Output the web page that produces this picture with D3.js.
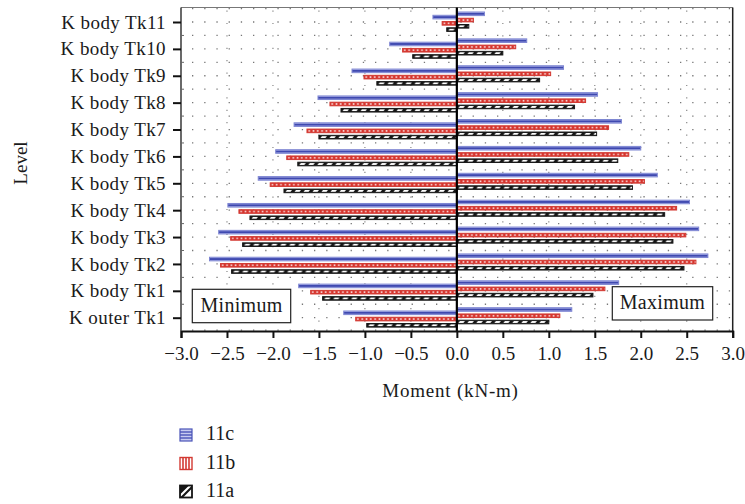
<!DOCTYPE html>
<html>
<head>
<meta charset="utf-8">
<script src="https://cdn.jsdelivr.net/npm/d3@7"></script>
<style>
  html, body { margin: 0; padding: 0; background: #fff; }
  svg text { font-family: "Liberation Serif", "Times New Roman", serif; fill: #1a1a1a; }
</style>
</head>
<body>
<svg id="chart" width="745" height="504"></svg>
<script>
// Levels, bottom to top
const levels = ["K outer Tk1", "K body Tk1", "K body Tk2", "K body Tk3", "K body Tk4", "K body Tk5",
                "K body Tk6", "K body Tk7", "K body Tk8", "K body Tk9", "K body Tk10", "K body Tk11"];
const seriesNames = ["11c", "11b", "11a"];

// Minimum moments (kN-m)
const min11c = [-1.23, -1.72, -2.69, -2.59, -2.49, -2.16, -1.97, -1.77, -1.51, -1.14, -0.73, -0.26];
const min11b = [-1.10, -1.59, -2.57, -2.46, -2.37, -2.03, -1.85, -1.63, -1.38, -1.01, -0.59, -0.16];
const min11a = [-0.98, -1.46, -2.45, -2.33, -2.25, -1.88, -1.73, -1.50, -1.26, -0.87, -0.48, -0.11];
// Maximum moments (kN-m)
const max11c = [1.25, 1.76, 2.73, 2.63, 2.53, 2.18, 2.00, 1.79, 1.53, 1.16, 0.76, 0.30];
const max11b = [1.12, 1.61, 2.60, 2.49, 2.39, 2.04, 1.87, 1.65, 1.40, 1.02, 0.64, 0.18];
const max11a = [1.00, 1.48, 2.47, 2.35, 2.26, 1.91, 1.75, 1.52, 1.28, 0.90, 0.50, 0.13];

const xTicks = [-3.0, -2.5, -2.0, -1.5, -1.0, -0.5, 0.0, 0.5, 1.0, 1.5, 2.0, 2.5, 3.0];

const svg = d3.select("#chart");
const plotL = 181, plotR = 732.7, plotT = 7.5, plotB = 331;

const x = d3.scaleLinear().domain([-3, 3]).range([plotL, plotR]);
const y = d3.scalePoint().domain(levels).range([317.7, 22]);
// offset of each series bar inside a level (max bars sit slightly higher than min bars)
const sub = d3.scaleBand().domain(seriesNames).range([-10, 7.5]).paddingInner(0.2);
const minShift = 3.3;
const barH = 3.6;

// ---- patterns ----
const defs = svg.append("defs");
const pRed = defs.append("pattern").attr("id", "pat11b").attr("patternUnits", "userSpaceOnUse")
  .attr("width", 4.3).attr("height", barH);
pRed.append("rect").attr("width", 4.3).attr("height", barH).attr("fill", "#d6342d");
pRed.append("rect").attr("x", 1.4).attr("y", 1.1).attr("width", 1.6).attr("height", 1.4).attr("fill", "#fff");

const pBlack = defs.append("pattern").attr("id", "pat11a").attr("patternUnits", "userSpaceOnUse")
  .attr("width", 9).attr("height", barH);
pBlack.append("rect").attr("width", 9).attr("height", barH).attr("fill", "#151515");
pBlack.append("path").attr("d", "M1.5,2.7 L3,1 L8,1 L6.5,2.7 Z").attr("fill", "#fff");

const pBlue = defs.append("pattern").attr("id", "pat11c").attr("patternUnits", "userSpaceOnUse")
  .attr("width", 10).attr("height", barH);
pBlue.append("rect").attr("width", 10).attr("height", barH).attr("fill", "#aab0e6");
pBlue.append("rect").attr("y", 0.9).attr("width", 10).attr("height", 1.9).attr("fill", "#3f49b0");

const fills = { "11c": "url(#pat11c)", "11b": "url(#pat11b)", "11a": "url(#pat11a)" };
const strokes = { "11c": "#7d85d2", "11b": "#d33a33", "11a": "#1a1a1a" };

// ---- dotted background grid ----
const grid = svg.append("g");
const rows = [];
levels.forEach((l, i) => {
  rows.push(y(l));
  if (i < levels.length - 1) rows.push((y(l) + y(levels[i + 1])) / 2);
});
const midRows = rows.filter((r, i) => i % 2 === 1);
rows.push(y(levels[levels.length - 1]) - 13.4);
rows.push(y(levels[0]) + 13.4 - 1);
grid.selectAll("line.row").data(rows).join("line")
  .attr("x1", plotL + 11).attr("x2", plotR - 2)
  .attr("y1", d => d).attr("y2", d => d)
  .attr("stroke", "#777").attr("stroke-width", 1.3)
  .attr("stroke-dasharray", "1.3,10.9");
grid.selectAll("line.col").data(xTicks.filter(t => t > -3 && t < 3 && t !== 0)).join("line")
  .attr("x1", d => x(d)).attr("x2", d => x(d))
  .attr("y1", plotT + 3).attr("y2", plotB - 2)
  .attr("stroke", "#888").attr("stroke-width", 1.2)
  .attr("stroke-dasharray", "1.2,11.2");

// ---- frame ----
svg.append("line").attr("x1", plotL).attr("x2", plotR).attr("y1", plotT).attr("y2", plotT)
  .attr("stroke", "#777").attr("stroke-width", 1.2);
svg.append("line").attr("x1", plotR).attr("x2", plotR).attr("y1", plotT).attr("y2", plotB)
  .attr("stroke", "#222").attr("stroke-width", 1.5);

// ---- bars ----
const minData = { "11c": min11c, "11b": min11b, "11a": min11a };
const maxData = { "11c": max11c, "11b": max11b, "11a": max11a };
const bars = [];
seriesNames.forEach(s => {
  levels.forEach((l, i) => {
    bars.push({ s, l, v: minData[s][i], shift: minShift });
    bars.push({ s, l, v: maxData[s][i], shift: 0 });
  });
});
const barG = svg.append("g");
const bg = barG.selectAll("g.bar").data(bars).join("g")
  .attr("transform", d => `translate(${x(Math.min(0, d.v))},${y(d.l) + sub(d.s) + d.shift})`);
bg.append("rect")
  .attr("width", d => Math.abs(x(d.v) - x(0)))
  .attr("height", barH)
  .attr("fill", d => fills[d.s])
  .attr("stroke", d => strokes[d.s])
  .attr("stroke-width", 1);

// zero line
svg.append("line").attr("x1", x(0)).attr("x2", x(0)).attr("y1", plotT).attr("y2", plotB)
  .attr("stroke", "#000").attr("stroke-width", 2.2);

// ---- axes ----
const xAxis = d3.axisBottom(x).tickValues(xTicks).tickSize(7).tickPadding(9)
  .tickFormat(d => d3.format(".1f")(d).replace("-", "\u2212"));
const xg = svg.append("g").attr("transform", `translate(0,${plotB})`).call(xAxis)
  .attr("font-family", null);
xg.select(".domain").attr("stroke", "#111").attr("stroke-width", 2);
xg.selectAll(".tick line").attr("stroke", "#111").attr("stroke-width", 2);
xg.selectAll(".tick text").attr("font-size", 19).attr("fill", "#1a1a1a");

const yAxis = d3.axisLeft(y).tickSize(8).tickPadding(7);
const yg = svg.append("g").attr("transform", `translate(${plotL},0)`).call(yAxis)
  .attr("font-family", null);
yg.select(".domain").attr("d", `M0,${plotT}V${plotB}`).attr("stroke", "#444").attr("stroke-width", 1.6);
yg.selectAll(".tick line").attr("stroke", "#111").attr("stroke-width", 2);
yg.selectAll(".tick text").attr("font-size", 19).attr("letter-spacing", 0.4).attr("fill", "#1a1a1a");
// minor ticks between levels
yg.selectAll("line.minor").data(midRows).join("line")
  .attr("x1", 0).attr("x2", 3).attr("y1", d => d).attr("y2", d => d)
  .attr("stroke", "#666").attr("stroke-width", 1);

// axis titles
svg.append("text").attr("x", 450.5).attr("y", 396.5).attr("text-anchor", "middle")
  .attr("font-size", 19).attr("letter-spacing", 0.8).text("Moment (kN-m)");
svg.append("text").attr("transform", "translate(27,163) rotate(-90)").attr("text-anchor", "middle")
  .attr("font-size", 19).text("Level");

// ---- Minimum / Maximum boxes ----
function noteBox(x0, y0, w, h, label, by) {
  svg.append("rect").attr("x", x0).attr("y", y0).attr("width", w).attr("height", h)
    .attr("fill", "#fff").attr("stroke", "#222").attr("stroke-width", 1.2);
  svg.append("text").attr("x", x0 + w / 2).attr("y", by).attr("text-anchor", "middle")
    .attr("font-size", 20).attr("letter-spacing", 0.3).text(label);
}
noteBox(192.3, 289.3, 98.4, 33.4, "Minimum", 311.5);
noteBox(612.3, 286.7, 100.4, 33.3, "Maximum", 309);

// ---- legend ----
const lg = svg.append("g");
const legendY = { "11c": 429, "11b": 457.5, "11a": 485.5 };
const lx = 180, ls = 12;
// 11c: horizontal lines
{
  const g = lg.append("g").attr("transform", `translate(${lx},${legendY["11c"]})`);
  g.append("rect").attr("width", ls).attr("height", ls).attr("fill", "#c7cbf0").attr("stroke", "#4a54b8").attr("stroke-width", 1.2);
  [3, 6, 9].forEach(v => g.append("line").attr("x1", 0).attr("x2", ls).attr("y1", v).attr("y2", v)
    .attr("stroke", "#4a54b8").attr("stroke-width", 1.4));
}
// 11b: vertical lines
{
  const g = lg.append("g").attr("transform", `translate(${lx},${legendY["11b"]})`);
  g.append("rect").attr("width", ls).attr("height", ls).attr("fill", "#fff").attr("stroke", "#d33a33").attr("stroke-width", 1.4);
  [3, 6, 9].forEach(v => g.append("line").attr("x1", v).attr("x2", v).attr("y1", 0).attr("y2", ls)
    .attr("stroke", "#d33a33").attr("stroke-width", 1.6));
}
// 11a: diagonal hatch
{
  const g = lg.append("g").attr("transform", `translate(${lx},${legendY["11a"]})`);
  g.append("rect").attr("width", ls).attr("height", ls).attr("fill", "#fff").attr("stroke", "#151515").attr("stroke-width", 1.8);
  g.append("path").attr("d", `M0,${ls} L${ls},0 L${ls},3 L3,${ls} Z M0,${ls - 3} L${ls - 3},0 L0,0 Z`).attr("fill", "#151515");
}
seriesNames.forEach(s => {
  lg.append("text").attr("x", 206).attr("y", legendY[s] + 11).attr("font-size", 20).text(s);
});
</script>
</body>
</html>
